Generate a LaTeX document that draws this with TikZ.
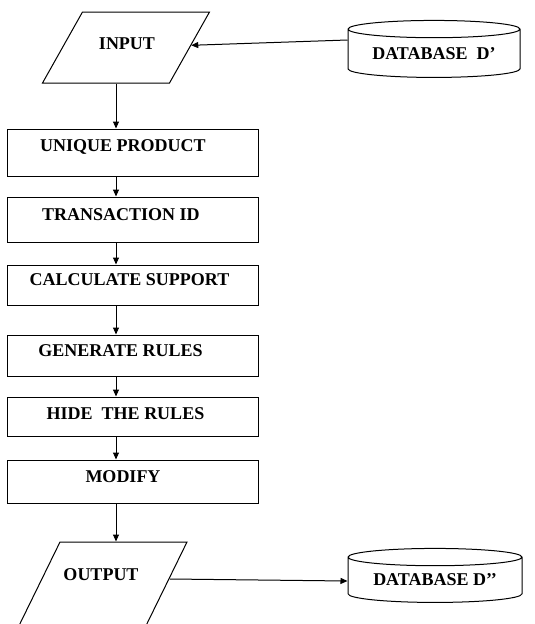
\documentclass[tikz,border=0pt]{standalone}
\usepackage{fontspec}
\setmainfont{Liberation Serif}
\usetikzlibrary{arrows.meta,shapes.geometric,positioning}

\begin{document}
\begin{tikzpicture}[
    x = 1pt, y = -1pt, % one unit per pixel, y going down
    > = {Triangle[length=7pt,width=6pt]}, % arrow head style
    line width = 1pt,
    font = \fontsize{18}{20}\selectfont\bfseries
    ]

    \tikzset{
    every node/.style = {inner sep=0pt},
    procbox/.style = {draw, rectangle, minimum width=251, minimum height=#1},
    iobox/.style = {draw, rectangle, minimum width=127},
    dbase/.style = {draw, cylinder, shape border rotate=90, shape aspect=0.14},
    lbl/.style = {anchor=base}
    }

    \useasboundingbox (0,0) rectangle (535,624);
    \clip (0,0) rectangle (535,624);

    % input and output (slanted rectangles)
    \node[iobox, minimum height=71, xslant=0.563] (inp) at (126,47.5) {};
    \node[iobox, minimum height=100, xslant=0.49] (outp) at (99,592) {};

    % databases
    \node[dbase, minimum width=172, minimum height=57] (db1) at (434,53.5) {DATABASE\ \ D’};
    \node[dbase, minimum width=174, minimum height=54] (db2) at (435,580) {DATABASE D’’};

    % process steps
    \node[procbox=47] (uniq)   at (132.5,152.5) {};
    \node[procbox=45] (trans)  at (132.5,219.5) {};
    \node[procbox=40] (calc)   at (132.5,285)   {};
    \node[procbox=41] (gen)    at (132.5,355.5) {};
    \node[procbox=39] (hide)   at (132.5,416.5) {};
    \node[procbox=43] (modify) at (132.5,481.5) {};

    % texts
    \node[lbl] (tIn)    at (127,49)    {INPUT};
    \node[lbl] (tOut)   at (101,580)   {OUTPUT};
    \node[lbl] (tUniq)  at (123,151)   {UNIQUE PRODUCT};
    \node[lbl] (tTrans) at (121,220)   {TRANSACTION ID};
    \node[lbl] (tCalc)  at (129.5,285) {CALCULATE SUPPORT};
    \node[lbl] (tGen)   at (120.5,356) {GENERATE RULES};
    \node[lbl] (tHide)  at (125.5,419) {HIDE\ \ THE RULES};
    \node[lbl] (tMod)   at (123,482)   {MODIFY};

    \coordinate (spine) at (116,0);
    \coordinate (outr) at (170,579);

    \draw[->] ([yshift=13.5pt]db1.west) -- (inp);
    \draw[->] (inp.south -| spine) -- (uniq.north -| spine);
    \foreach \a/\b in {uniq/trans, trans/calc, calc/gen, gen/hide, hide/modify}
        \draw[->] (\a.south -| spine) -- (\b.north -| spine);
    \draw[->] (modify.south -| spine) -- (outp.north -| spine);
    \draw[->] (outr) -- ([yshift=-1pt]db2.west);
\end{tikzpicture}
\end{document}
